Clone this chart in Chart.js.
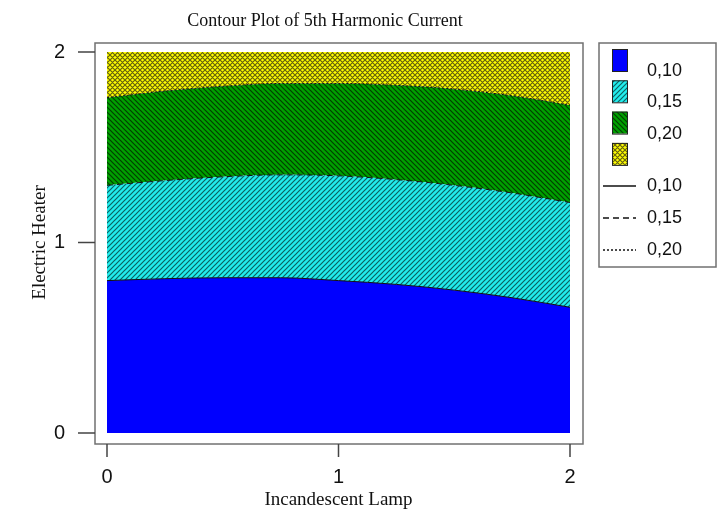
<!DOCTYPE html>
<html>
<head>
<meta charset="utf-8">
<title>Contour Plot of 5th Harmonic Current</title>
<script src="https://cdn.jsdelivr.net/npm/chart.js"></script>
<style>
  html, body { margin: 0; padding: 0; background: #fff; }
</style>
</head>
<body>
<canvas id="contourChart" width="727" height="511"></canvas>
<script>
// Incandescent Lamp sample positions
const lampValues = [0, 0.25, 0.5, 0.75, 1, 1.25, 1.5, 1.75, 2];
// Electric Heater value of each contour boundary
const level010 = [0.80, 0.81, 0.815, 0.815, 0.80, 0.78, 0.75, 0.71, 0.66];
const level015 = [1.30, 1.325, 1.345, 1.355, 1.35, 1.33, 1.30, 1.26, 1.21];
const level020 = [1.76, 1.795, 1.82, 1.835, 1.835, 1.825, 1.805, 1.77, 1.72];
const xTicks = [0, 1, 2];
const yTicks = [0, 1, 2];
const fillLabels = ['0,10', '0,15', '0,20', ''];
const lineLabels = ['0,10', '0,15', '0,20'];

const SANS = '"Liberation Sans", Arial, sans-serif';
const SERIF = '"Liberation Serif", "Times New Roman", serif';

// hatch patterns: '/' , '\' or both
function makePattern(bg, fg, dirs) {
    const s = 5;
    const c = document.createElement('canvas');
    c.width = s; c.height = s;
    const g = c.getContext('2d');
    g.fillStyle = bg;
    g.fillRect(0, 0, s, s);
    g.strokeStyle = fg;
    g.lineWidth = 1.2;
    g.beginPath();
    if (dirs.includes('/')) {
        g.moveTo(0, s); g.lineTo(s, 0);
        g.moveTo(-1, 1); g.lineTo(1, -1);
        g.moveTo(s - 1, s + 1); g.lineTo(s + 1, s - 1);
    }
    if (dirs.includes('\\')) {
        g.moveTo(0, 0); g.lineTo(s, s);
        g.moveTo(-1, s - 1); g.lineTo(1, s + 1);
        g.moveTo(s - 1, -1); g.lineTo(s + 1, 1);
    }
    g.stroke();
    return g.createPattern(c, 'repeat');
}

const blueFill = '#0000ff';
const cyanFill = makePattern('#22eded', '#0b6262', '/');
const greenFill = makePattern('#00a000', '#023f02', '\\');
const yellowFill = makePattern('#ffff00', '#66620e', '/\\');
const swatches = [blueFill, cyanFill, greenFill, yellowFill];
const dashes = [[], [6, 4], [2, 2]];

function toPoints(ys) {
    return lampValues.map((x, i) => ({ x: x, y: ys[i] }));
}

// frame, outer ticks, title and legend
const decorPlugin = {
    id: 'decor',
    afterDraw(chart) {
        const { ctx, chartArea: a, scales } = chart;
        const fl = a.left - 12, ft = a.top - 9, fr = a.right + 13, fb = a.bottom + 11;
        ctx.save();
        ctx.strokeStyle = '#707070';
        ctx.lineWidth = 1.5;
        ctx.strokeRect(fl, ft, fr - fl, fb - ft);

        ctx.strokeStyle = '#444';
        ctx.beginPath();
        yTicks.forEach(v => {
            const py = scales.y.getPixelForValue(v);
            ctx.moveTo(fl - 17, py); ctx.lineTo(fl, py);
        });
        xTicks.forEach(v => {
            const px = scales.x.getPixelForValue(v);
            ctx.moveTo(px, fb); ctx.lineTo(px, fb + 13);
        });
        ctx.stroke();

        // title
        ctx.fillStyle = '#111';
        ctx.font = '18px ' + SERIF;
        ctx.textAlign = 'center';
        ctx.textBaseline = 'alphabetic';
        ctx.fillText('Contour Plot of 5th Harmonic Current', 325, 26);

        // legend
        ctx.strokeStyle = '#707070';
        ctx.lineWidth = 1.5;
        ctx.strokeRect(599, 43, 117, 224);
        ctx.font = '18px ' + SANS;
        ctx.textAlign = 'left';
        ctx.textBaseline = 'middle';
        swatches.forEach((fill, i) => {
            const sy = 49 + i * 31.3;
            ctx.fillStyle = fill;
            ctx.fillRect(612, sy, 15, 22);
            ctx.strokeStyle = '#222';
            ctx.lineWidth = 1;
            ctx.strokeRect(612.5, sy + 0.5, 15, 22);
            if (fillLabels[i]) {
                ctx.fillStyle = '#111';
                ctx.fillText(fillLabels[i], 647, sy + 22);
            }
        });
        lineLabels.forEach((lab, i) => {
            const ly = 186 + i * 32;
            ctx.strokeStyle = '#111';
            ctx.lineWidth = 1.3;
            ctx.setLineDash(dashes[i]);
            ctx.beginPath();
            ctx.moveTo(603, ly); ctx.lineTo(636, ly);
            ctx.stroke();
            ctx.setLineDash([]);
            ctx.fillStyle = '#111';
            ctx.fillText(lab, 647, ly);
        });
        ctx.restore();
    }
};

new Chart(document.getElementById('contourChart'), {
    type: 'line',
    data: {
        datasets: [
            {
                label: '0,10',
                data: toPoints(level010),
                fill: 'start',
                backgroundColor: blueFill,
                borderColor: '#111',
                borderWidth: 1
            },
            {
                label: '0,15',
                data: toPoints(level015),
                fill: '-1',
                backgroundColor: cyanFill,
                borderColor: '#111',
                borderWidth: 1,
                borderDash: [6, 4]
            },
            {
                label: '0,20',
                data: toPoints(level020),
                fill: '-1',
                backgroundColor: greenFill,
                borderColor: '#111',
                borderWidth: 1,
                borderDash: [2, 2]
            },
            {
                label: 'top',
                data: toPoints(level020),
                fill: 'end',
                backgroundColor: yellowFill,
                borderWidth: 0
            }
        ]
    },
    options: {
        responsive: false,
        animation: false,
        cubicInterpolationMode: 'monotone',
        pointRadius: 0,
        layout: { padding: { left: 0, top: 52, right: 157, bottom: 0 } },
        plugins: {
            legend: { display: false },
            tooltip: { enabled: false }
        },
        scales: {
            x: {
                type: 'linear',
                min: 0,
                max: 2,
                afterFit(scale) { scale.height = 78; },
                afterBuildTicks(scale) { scale.ticks = xTicks.map(v => ({ value: v })); },
                border: { display: false },
                grid: { display: true, drawOnChartArea: false, drawTicks: true, tickLength: 25, tickColor: 'rgba(0,0,0,0)' },
                ticks: { padding: 7, color: '#111', font: { family: SANS, size: 20 } },
                title: {
                    display: true,
                    text: 'Incandescent Lamp',
                    color: '#111',
                    padding: { top: 0, bottom: 0 },
                    font: { family: SERIF, size: 19 }
                }
            },
            y: {
                type: 'linear',
                min: 0,
                max: 2,
                afterFit(scale) { scale.width = 107; },
                afterBuildTicks(scale) { scale.ticks = yTicks.map(v => ({ value: v })); },
                border: { display: false },
                grid: { display: true, drawOnChartArea: false, drawTicks: true, tickLength: 30, tickColor: 'rgba(0,0,0,0)' },
                ticks: { padding: 12, color: '#111', font: { family: SANS, size: 20 } },
                title: {
                    display: true,
                    text: 'Electric Heater',
                    color: '#111',
                    padding: { top: 29, bottom: 0 },
                    font: { family: SERIF, size: 19 }
                }
            }
        }
    },
    plugins: [decorPlugin]
});
</script>
</body>
</html>
